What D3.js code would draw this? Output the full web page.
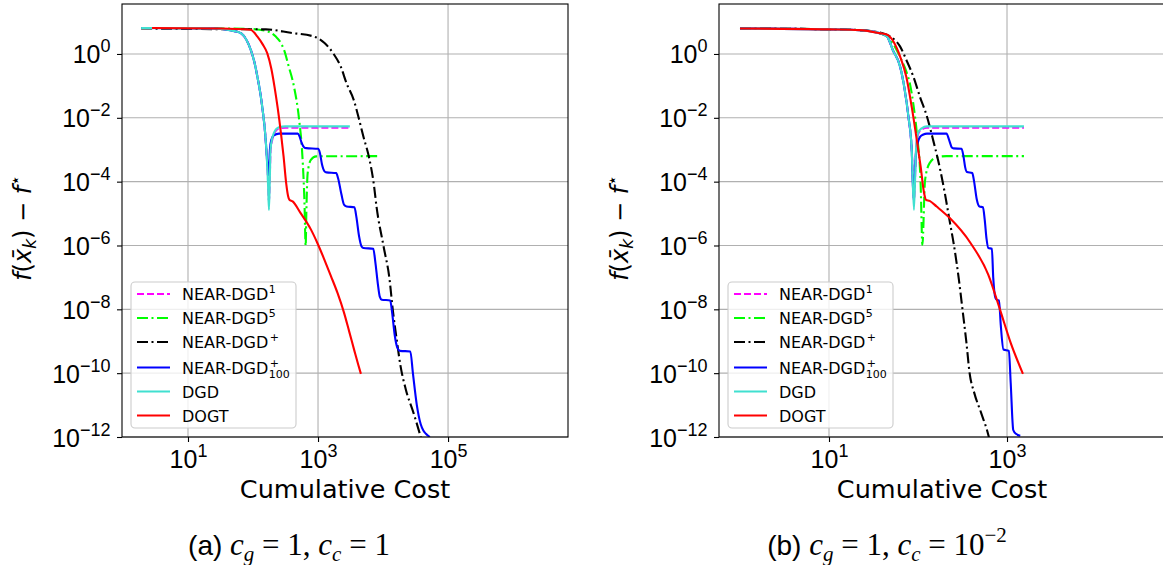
<!DOCTYPE html>
<html>
<head>
<meta charset="utf-8">
<script src="https://cdn.jsdelivr.net/npm/d3@7/dist/d3.min.js"></script>
<style>
  body { margin: 0; background: #fff; }
</style>
</head>
<body>
<div id="chart"></div>
<script>
// ---- data: [cumulative cost, f(x_k) - f*] ----
// (a) c_g = 1, c_c = 1
const near1A = [[1.9,6.5],[10,6.46],[25,6.3],[36,6.0],[52,5.2],[66,4.4],[79,2.8],[93,1.3],[105,0.56],[117,0.19],[129,0.063],[141,0.017],[151,0.005],[158,0.0016],[170,1.2e-4],[176,2.5e-5],[182,2.0e-4],[186,9e-4],[195,1.8e-3],[209,3.0e-3],[229,4.1e-3],[251,4.7e-3],[316,4.9e-3],[2950,4.9e-3]];
const near5A = [[6,6.46],[32,6.3],[100,6.0],[166,5.1],[224,3.5],[269,2.2],[302,1.3],[355,0.4],[427,0.095],[513,8.5e-3],[575,6.3e-4],[617,2.7e-5],[646,1e-6],[661,1e-5],[692,1.8e-4],[776,4.8e-4],[933,6.2e-4],[9120,6.3e-4]];
const nearPA = [[1.9,6.3],[32,6.0],[158,5.9],[380,4.6],[871,3.5],[1260,2.2],[1740,1.0],[2240,0.4],[2750,0.12],[3550,0.036],[4170,0.011],[5010,2.5e-3],[6030,6.3e-4],[7240,7.9e-5],[7940,1.66e-5],[10200,9.3e-7],[12600,8.7e-8],[14100,1e-8],[16200,1.15e-9],[18600,1.66e-10],[22400,3.1e-11],[29500,5.6e-12],[38000,1e-12],[41700,5e-13]];
const near100A = [[1.9,6.5],[10,6.46],[25,6.3],[36,6.0],[52,5.2],[66,4.4],[79,2.8],[93,1.3],[105,0.56],[117,0.19],[129,0.063],[141,0.017],[151,0.005],[158,0.0016],[174,1.6e-4],[182,1e-3],[191,2e-3],[209,2.8e-3],[251,3.2e-3],[490,3.2e-3],[525,2.5e-3],[562,1.6e-3],[617,1.17e-3],[661,1.12e-3],[1000,1.07e-3],[1070,7.9e-4],[1150,3.5e-4],[1260,2.1e-4],[1350,1.95e-4],[1900,1.86e-4],[2040,1.26e-4],[2290,4e-5],[2510,1.9e-5],[2750,1.66e-5],[3630,1.58e-5],[3890,7.9e-6],[4270,2e-6],[4680,9.3e-7],[5010,8.3e-7],[7080,7.9e-7],[7590,3.2e-7],[8320,6.3e-8],[8910,2.5e-8],[9550,2e-8],[12900,1.9e-8],[13800,7.9e-9],[15100,1.6e-9],[16600,6.3e-10],[18200,5e-10],[26300,4.8e-10],[28800,1e-10],[33100,1e-11],[38000,2.5e-12],[41700,1.6e-12],[45700,1.26e-12],[52500,1e-12]];
const dgdA = [[1.9,6.5],[10,6.46],[25,6.3],[36,6.0],[52,5.2],[66,4.4],[79,2.8],[93,1.3],[105,0.56],[117,0.19],[129,0.063],[141,0.017],[151,0.005],[158,0.0016],[170,8.9e-5],[176,1.3e-5],[182,1.6e-4],[186,1e-3],[195,2e-3],[209,3.3e-3],[229,4.5e-3],[251,5.1e-3],[316,5.4e-3],[3090,5.4e-3]];
const dogtA = [[2.8,6.5],[32,6.3],[91,5.75],[117,3.5],[141,2.0],[166,1.05],[191,0.35],[214,0.095],[240,0.02],[269,3.3e-3],[295,6.3e-4],[324,8.9e-5],[347,3.5e-5],[363,2.7e-5],[407,2.4e-5],[537,1.05e-5],[776,3.2e-6],[977,1.2e-6],[1260,3.5e-7],[1580,1.1e-7],[2000,3.2e-8],[2510,7.9e-9],[3020,2e-9],[3630,5e-10],[4170,1.8e-10],[4570,9.5e-11]];

// (b) c_g = 1, c_c = 1e-2
const near1B = [[1,6.3],[10,5.9],[22,5.6],[37,4.5],[45,3.5],[52,1.35],[63,0.4],[71,0.074],[78,0.011],[85,1e-3],[90,2.5e-5],[95,9e-4],[100,3e-3],[110,4.3e-3],[126,4.9e-3],[1550,4.9e-3]];
const near5B = [[1,6.3],[10,5.9],[22,5.6],[37,4.5],[47,3.2],[63,0.8],[74,0.28],[81,0.12],[89,0.025],[97,3.3e-3],[107,8.9e-5],[112,1.05e-6],[120,1.1e-4],[135,3.8e-4],[162,5.8e-4],[209,6.3e-4],[1550,6.3e-4]];
const nearPB = [[1,6.3],[10,5.9],[22,5.6],[37,4.7],[49,3.5],[63,1.7],[74,0.65],[89,0.19],[105,0.046],[126,0.011],[148,2e-3],[178,2.3e-4],[200,4.4e-5],[229,5e-6],[251,1.2e-6],[288,8.5e-8],[316,1e-8],[350,9e-10],[380,1e-10],[427,2.5e-11],[513,5.6e-12],[617,1.15e-12],[661,5e-13]];
const near100B = [[1,6.3],[10,5.9],[22,5.6],[37,4.5],[45,3.5],[52,1.35],[63,0.4],[71,0.074],[78,0.011],[85,1e-3],[89,3e-5],[95,8e-4],[105,2.5e-3],[115,3.0e-3],[126,3.2e-3],[209,3.2e-3],[224,2e-3],[240,1.17e-3],[251,1.1e-3],[309,1.07e-3],[324,6.3e-4],[339,2.8e-4],[355,2e-4],[407,1.86e-4],[427,1e-4],[457,2.8e-5],[490,1.66e-5],[537,1.58e-5],[562,6.3e-6],[589,1.6e-6],[617,8.3e-7],[676,7.9e-7],[700,1e-7],[741,2.3e-8],[776,1.95e-8],[813,1.9e-8],[851,3.2e-9],[912,5.5e-10],[1050,5e-10],[1100,5e-11],[1175,1.66e-12],[1260,1.26e-12],[1410,1.1e-12]];
const dgdB = [[1,6.3],[10,5.9],[22,5.6],[37,4.5],[45,3.5],[52,1.35],[63,0.4],[71,0.074],[78,0.011],[85,1e-3],[90,1.3e-5],[95,1e-3],[100,3.3e-3],[110,4.7e-3],[126,5.4e-3],[1550,5.4e-3]];
const dogtB = [[1,6.3],[10,5.9],[22,5.6],[37,4.5],[45,4.0],[63,0.83],[74,0.19],[85,0.022],[97,2e-3],[107,3e-4],[117,4.4e-5],[123,2.7e-5],[135,2.5e-5],[162,1.66e-5],[229,7.1e-6],[389,1.2e-6],[617,1.2e-7],[832,1e-8],[1100,8.9e-10],[1510,9.5e-11]];

const yTicks = [1e0, 1e-2, 1e-4, 1e-6, 1e-8, 1e-10, 1e-12];
const xTicksA = [1e1, 1e3, 1e5];
const xTicksB = [1e1, 1e3];

// series styling, in plotting order
const seriesStyle = [
  { sup: "1",   color: "#ff00ff", dash: "7,3" },
  { sup: "5",   color: "#00ff00", dash: "11,3.5,2,3.5" },
  { sup: "+",   color: "#000000", dash: "11,3.5,2,3.5" },
  { sup: "+", sub: "100", color: "#0000ff", dash: null },
  { label: "DGD",  color: "#40e0d0", dash: null },
  { label: "DOGT", color: "#ff0000", dash: null }
];

const width = 1163, height = 565;
const plotTop = 4, plotBottom = 437;
const yDomain = [1e-12, 36.8];

const panels = [
  { id: "a", left: 122, right: 568, xDomain: [0.966, 7.0e6], xTicks: xTicksA,
    series: [near1A, near5A, nearPA, near100A, dgdA, dogtA], captionX: 289, ccExp: null },
  { id: "b", left: 719, right: 1165, xDomain: [0.581, 59570], xTicks: xTicksB,
    series: [near1B, near5B, nearPB, near100B, dgdB, dogtB], captionX: 887, ccExp: "\u22122" }
];

const svg = d3.select("#chart").append("svg")
  .attr("width", width).attr("height", height)
  .style("font-family", "'DejaVu Sans', sans-serif");

function sup(text, base, exp, supSize, dy) {
  text.append("tspan").text(base);
  text.append("tspan").attr("font-size", supSize).attr("dy", dy).text(exp);
}

panels.forEach(p => {
  const x = d3.scaleLog().domain(p.xDomain).range([p.left, p.right]);
  const y = d3.scaleLog().domain(yDomain).range([plotBottom, plotTop]);
  const g = svg.append("g");

  g.append("clipPath").attr("id", "clip-" + p.id)
    .append("rect")
    .attr("x", p.left).attr("y", plotTop)
    .attr("width", p.right - p.left).attr("height", plotBottom - plotTop);

  // grid
  g.selectAll(".gx").data(p.xTicks).join("line")
    .attr("x1", d => x(d)).attr("x2", d => x(d))
    .attr("y1", plotTop).attr("y2", plotBottom)
    .attr("stroke", "#b0b0b0").attr("stroke-width", 1.1);
  g.selectAll(".gy").data(yTicks).join("line")
    .attr("x1", p.left).attr("x2", p.right)
    .attr("y1", d => y(d)).attr("y2", d => y(d))
    .attr("stroke", "#b0b0b0").attr("stroke-width", 1.1);

  // curves
  const line = d3.line()
    .x(d => x(d[0])).y(d => y(d[1]))
    .curve(d3.curveMonotoneX);
  const lines = g.append("g").attr("clip-path", `url(#clip-${p.id})`);
  p.series.forEach((s, i) => {
    const st = seriesStyle[i];
    lines.append("path")
      .attr("d", line(s))
      .attr("fill", "none")
      .attr("stroke", st.color)
      .attr("stroke-width", 2.1)
      .attr("stroke-dasharray", st.dash);
  });

  // axes
  const xAxis = g.append("g").attr("transform", `translate(0,${plotBottom})`)
    .call(d3.axisBottom(x).tickValues(p.xTicks).tickSize(5).tickFormat(""));
  xAxis.select(".domain").remove();
  xAxis.selectAll(".tick line").attr("stroke-width", 1.1);
  xAxis.selectAll(".tick text").remove();
  xAxis.selectAll(".tick").append("text")
    .attr("y", 31).attr("text-anchor", "middle")
    .attr("font-size", 25).attr("fill", "#000")
    .each(function(d) {
      sup(d3.select(this), "10", String(Math.round(Math.log10(d))), 18, -11);
    });

  const yAxis = g.append("g").attr("transform", `translate(${p.left},0)`)
    .call(d3.axisLeft(y).tickValues(yTicks).tickSize(5).tickFormat(""));
  yAxis.select(".domain").remove();
  yAxis.selectAll(".tick line").attr("stroke-width", 1.1);
  yAxis.selectAll(".tick text").remove();
  yAxis.selectAll(".tick").append("text")
    .attr("x", -11.5).attr("y", 9).attr("text-anchor", "end")
    .attr("font-size", 25).attr("fill", "#000")
    .each(function(d) {
      const e = Math.round(Math.log10(d));
      sup(d3.select(this), "10", e < 0 ? "\u2212" + (-e) : String(e), 18, -11);
    });

  // frame
  g.append("rect")
    .attr("x", p.left).attr("y", plotTop)
    .attr("width", p.right - p.left).attr("height", plotBottom - plotTop)
    .attr("fill", "none").attr("stroke", "#000").attr("stroke-width", 1.1);

  // axis titles
  g.append("text")
    .attr("x", (p.left + p.right) / 2).attr("y", 498)
    .attr("text-anchor", "middle").attr("font-size", 25.5)
    .text("Cumulative Cost");

  const yl = g.append("text")
    .attr("transform", `translate(${p.left - 91},228) rotate(-90)`)
    .attr("text-anchor", "middle").attr("font-size", 24);
  yl.append("tspan").attr("font-style", "italic").text("f");
  yl.append("tspan").text("(");
  yl.append("tspan").attr("font-style", "italic").text("x\u0304");
  yl.append("tspan").attr("font-style", "italic").attr("font-size", 17).attr("dy", 5).text("k");
  yl.append("tspan").attr("dy", -5).text(") \u2212 ");
  yl.append("tspan").attr("font-style", "italic").text("f");
  yl.append("tspan").attr("font-size", 17).attr("dy", -10).text("\u22c6");

  // legend
  const lg = g.append("g");
  lg.append("rect")
    .attr("x", p.left + 9).attr("y", 282)
    .attr("width", 165).attr("height", 146).attr("rx", 4)
    .attr("fill", "#fff").attr("fill-opacity", 0.8)
    .attr("stroke", "#cccccc").attr("stroke-width", 1.1);
  seriesStyle.forEach((st, i) => {
    const ry = 294 + i * 24 + (i >= 3 ? 1.5 : 0);
    lg.append("line")
      .attr("x1", p.left + 15).attr("x2", p.left + 48)
      .attr("y1", ry).attr("y2", ry)
      .attr("stroke", st.color).attr("stroke-width", 2.1)
      .attr("stroke-dasharray", st.dash);
    const t = lg.append("text")
      .attr("x", p.left + 60).attr("y", ry + 6)
      .attr("font-size", 16);
    if (st.label) { t.text(st.label); return; }
    t.append("tspan").text("NEAR-DGD");
    const w = t.node().getComputedTextLength();
    lg.append("text")
      .attr("x", p.left + 60 + w + (st.sup === "+" ? 1.5 : 0.5)).attr("y", ry - 1)
      .attr("font-size", 11).text(st.sup);
    if (st.sub) {
      lg.append("text")
        .attr("x", p.left + 60 + w + 0.5).attr("y", ry + 10)
        .attr("font-size", 11).text(st.sub);
    }
  });

  // caption
  const cap = g.append("text")
    .attr("x", p.captionX).attr("y", 555)
    .attr("text-anchor", "middle").attr("font-size", 31)
    .attr("font-family", "'Liberation Serif', serif");
  cap.append("tspan").attr("font-family", "'Liberation Sans', sans-serif").attr("font-size", 28)
    .text(`(${p.id}) `);
  cap.append("tspan").attr("font-style", "italic").text("c");
  cap.append("tspan").attr("font-style", "italic").attr("font-size", 21).attr("dy", 6).text("g");
  cap.append("tspan").attr("dy", -6).text(" = 1, ");
  cap.append("tspan").attr("font-style", "italic").text("c");
  cap.append("tspan").attr("font-style", "italic").attr("font-size", 21).attr("dy", 6).text("c");
  if (p.ccExp) {
    cap.append("tspan").attr("dy", -6).text(" = 10");
    cap.append("tspan").attr("font-size", 21).attr("dy", -13).text(p.ccExp);
  } else {
    cap.append("tspan").attr("dy", -6).text(" = 1");
  }
});
</script>
</body>
</html>
